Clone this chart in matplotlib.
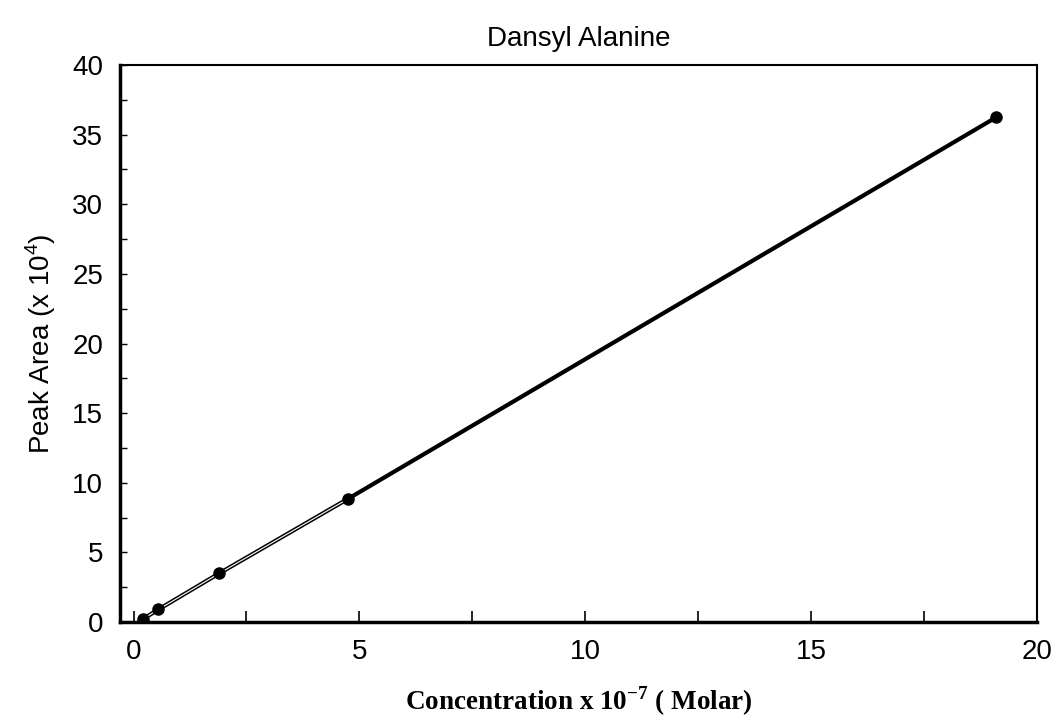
import matplotlib
matplotlib.use("Agg")
import matplotlib.pyplot as plt
from matplotlib.ticker import MultipleLocator

conc = [0.2, 0.55, 1.9, 4.75, 19.1]
area = [0.2, 0.9, 3.5, 8.85, 36.25]

title = "Dansyl Alanine"
xlabel = "Concentration x 10$^{\\mathregular{-7}}$ ( Molar)"
ylabel = "Peak Area (x 10$^{\\mathregular{4}}$)"

fig = plt.figure(figsize=(10.64, 7.28), dpi=100)
ax = fig.add_axes([0.1128, 0.1456, 0.8618, 0.7651])

ax.plot(conc, area, color="black", lw=3.0, solid_capstyle="round", zorder=2)
ax.plot(conc[:4], area[:4], color="white", lw=0.8, zorder=3)
ax.plot(conc, area, "o", color="black", ms=8, zorder=4)

ax.set_xlim(-0.3, 20)
ax.set_ylim(0, 40)
ax.xaxis.set_major_locator(MultipleLocator(5))
ax.xaxis.set_minor_locator(MultipleLocator(2.5))
ax.yaxis.set_major_locator(MultipleLocator(5))
ax.yaxis.set_minor_locator(MultipleLocator(2.5))
ax.tick_params(axis="x", which="both", direction="in", length=8, width=1.2,
               top=False, pad=12, labelsize=20)
ax.tick_params(axis="y", which="both", direction="in", length=5, width=1.0,
               right=False, pad=12, labelsize=20)
for lab in ax.get_xticklabels() + ax.get_yticklabels():
    lab.set_family("Liberation Sans")

for s in ax.spines.values():
    s.set_linewidth(1.5)
ax.spines["left"].set_linewidth(2.5)
ax.spines["bottom"].set_linewidth(2.5)

ax.set_title(title, family="Liberation Sans", fontsize=20, pad=14)
ax.set_xlabel(xlabel, family="Liberation Serif", fontweight="bold",
              fontsize=19.5, labelpad=14)
ax.set_ylabel(ylabel, family="Liberation Sans", fontsize=20, labelpad=10)

fig.savefig("out.png", dpi=100, facecolor="white")
